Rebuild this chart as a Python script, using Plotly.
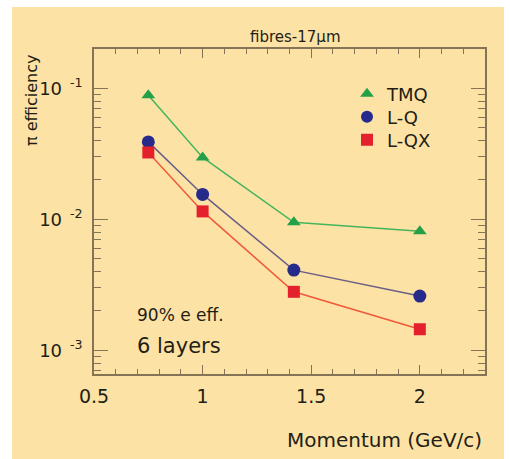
import plotly.graph_objects as go

momentum = [0.75, 1.0, 1.42, 2.0]
tmq = [0.0885, 0.0297, 0.0095, 0.0081]
lq = [0.039, 0.0155, 0.0041, 0.0026]
lqx = [0.0324, 0.0115, 0.0028, 0.00145]

series_names = ["TMQ", "L-Q", "L-QX"]
x_tick_vals = [0.5, 1, 1.5, 2]
x_tick_text = ["0.5", "1", "1.5", "2"]
y_tick_vals = [0.001, 0.01, 0.1]
y_tick_text = ["10<sup>&nbsp;&nbsp;-3</sup>", "10<sup>&nbsp;&nbsp;-2</sup>", "10<sup>&nbsp;&nbsp;-1</sup>"]

W, H = 510, 459
ml, mr, mt, mb = 94, 25, 49, 85
pw, ph = W - ml - mr, H - mt - mb

def px_x(p):
    return (p - ml) / pw

def px_y(p):
    return (H - mb - p) / ph

bg = "#FDE2A6"
axis_col = "#857556"
txt = "#221e14"
font = "DejaVu Sans, Liberation Sans, sans-serif"

fig = go.Figure()
styles = [
    (tmq, "#45B55C", "#23A048", "triangle-up", 12),
    (lq, "#6A5E86", "#262A8A", "circle", 13),
    (lqx, "#EE5A3A", "#E3202C", "square", 12),
]
legend_ids = ["legend", "legend2", "legend3"]
legend_rows = [94, 117, 140]

for name, (vals, lc, mc, sym, ms) in zip(series_names, styles):
    fig.add_trace(go.Scatter(
        x=momentum, y=vals, mode="lines", showlegend=False,
        line=dict(color=lc, width=1.5), hoverinfo="skip",
    ))
for name, lid, (vals, lc, mc, sym, ms) in zip(series_names, legend_ids, styles):
    fig.add_trace(go.Scatter(
        x=momentum, y=vals, name=name, mode="markers", legend=lid,
        marker=dict(color=mc, symbol=sym, size=ms, line=dict(width=0)),
    ))

fig.add_shape(type="rect", xref="paper", yref="paper",
              x0=px_x(12), x1=px_x(504), y0=px_y(462), y1=px_y(7),
              fillcolor=bg, line=dict(width=0), layer="below")

minor_y = [m * 10 ** e for e in (-4, -3, -2, -1) for m in range(2, 10)]
minor_x = [round(0.5 + 0.1 * i, 2) for i in range(0, 19)]

legend_cfg = {}
for lid, row in zip(legend_ids, legend_rows):
    legend_cfg[lid] = dict(x=px_x(347), y=px_y(row), xanchor="left", yanchor="middle",
                           bgcolor="rgba(0,0,0,0)", font=dict(size=18, color=txt),
                           itemsizing="constant")

fig.update_layout(
    width=W, height=H,
    margin=dict(l=ml, r=mr, t=mt, b=mb),
    paper_bgcolor="white", plot_bgcolor="rgba(0,0,0,0)",
    font=dict(family=font, color=txt, size=15),
    showlegend=True,
    **legend_cfg,
    xaxis=dict(range=[0.5, 2.3], tickvals=x_tick_vals, ticktext=x_tick_text,
               ticks="inside", ticklen=9, tickcolor=axis_col, tickwidth=1,
               showline=True, linecolor=axis_col, linewidth=1.5, mirror="ticks",
               showgrid=False, zeroline=False,
               minor=dict(tickvals=minor_x, ticks="inside", ticklen=5, tickcolor=axis_col),
               tickfont=dict(size=19), ticklabelstandoff=4),
    yaxis=dict(type="log", range=[-3.18, -0.70], tickvals=y_tick_vals, ticktext=y_tick_text,
               ticks="inside", ticklen=14, tickcolor=axis_col, tickwidth=1,
               showline=True, linecolor=axis_col, linewidth=1.5, mirror="ticks",
               showgrid=False, zeroline=False,
               minor=dict(tickvals=minor_y, ticks="inside", ticklen=7, tickcolor=axis_col),
               tickfont=dict(size=18), ticklabelstandoff=6),
)

def note(text, x, y, size, xanchor="center", yanchor="middle", angle=0):
    fig.add_annotation(text=text, xref="paper", yref="paper",
                       x=px_x(x), y=px_y(y), xanchor=xanchor, yanchor=yanchor,
                       textangle=angle, showarrow=False,
                       font=dict(size=size, color=txt))

note("fibres-17µm", 295, 37, 15)
note("π efficiency", 31, 100, 16, angle=-90)
note("Momentum (GeV/c)", 484, 440, 20, xanchor="right")
note("90% e eff.", 180, 315, 17)
note("6 layers", 179, 346, 21)

fig.write_html("out.html")
